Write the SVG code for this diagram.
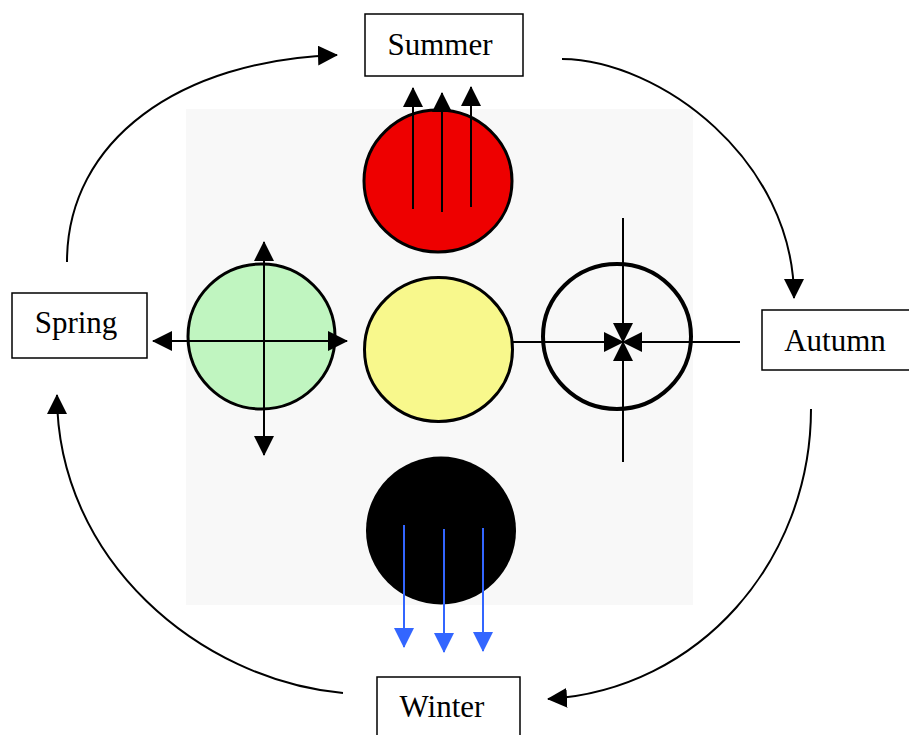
<svg xmlns="http://www.w3.org/2000/svg" width="909" height="735" viewBox="0 0 909 735">
<style>
.box{fill:#fff;stroke:#000;stroke-width:1.5}
.lbl{font-family:"Liberation Serif","Times New Roman",serif;font-size:31px;fill:#000;text-anchor:middle}
.ln{stroke:#000;stroke-width:2;fill:none}
.bl{stroke:#3366ff;stroke-width:2;fill:none}
.disc{stroke:#000;stroke-width:3}
</style>
<defs>
<marker id="ah" markerUnits="userSpaceOnUse" markerWidth="20" markerHeight="20" refX="19" refY="10" orient="auto-start-reverse">
<path d="M0,0 L20,10 L0,20 z" fill="#000"/>
</marker>
<marker id="ahb" markerUnits="userSpaceOnUse" markerWidth="20" markerHeight="20" refX="19" refY="10" orient="auto">
<path d="M0,0 L20,10 L0,20 z" fill="#3366ff"/>
</marker>
</defs>
<rect width="909" height="735" fill="#fff"/>
<rect id="panel" x="186" y="109" width="507" height="496" fill="#f8f8f8"/>

<g id="red"><ellipse class="disc" cx="438" cy="181" rx="74" ry="71" fill="#ee0000" stroke="#300"/></g>
<g id="yellow"><ellipse class="disc" cx="438.5" cy="349.5" rx="74" ry="72" fill="#f8f88c"/></g>
<g id="green"><ellipse class="disc" cx="261.5" cy="336.5" rx="73.5" ry="72.5" fill="#c0f5c0"/></g>
<g id="white"><ellipse cx="617" cy="336.5" rx="74" ry="72.5" fill="#f8f8f8" stroke="#000" stroke-width="4"/></g>
<g id="black"><ellipse cx="441" cy="530.5" rx="75" ry="74" fill="#000"/></g>

<g id="summer"><rect class="box" x="365" y="14" width="158" height="62"/><text class="lbl" x="440" y="55">Summer</text></g>
<g id="spring"><rect class="box" x="12" y="293" width="135" height="65"/><text class="lbl" x="76" y="333">Spring</text></g>
<g id="autumn"><rect class="box" x="762" y="310" width="160" height="60"/><text class="lbl" x="835" y="351">Autumn</text></g>
<g id="winter"><rect class="box" x="377" y="677" width="143" height="70"/><text class="lbl" x="442" y="717">Winter</text></g>

<g id="connectors">
<path class="ln" d="M67,262 C67,140 180,60 337,55" marker-end="url(#ah)"/>
<path class="ln" d="M562,59 C660,60 794,160 794,298" marker-end="url(#ah)"/>
<path class="ln" d="M811,409 C811,560 700,690 548,699" marker-end="url(#ah)"/>
<path class="ln" d="M343,693 C200,680 57,560 57,395" marker-end="url(#ah)"/>

<line class="ln" x1="413" y1="209" x2="413" y2="88" marker-end="url(#ah)"/>
<line class="ln" x1="442" y1="212" x2="442" y2="93" marker-end="url(#ah)"/>
<line class="ln" x1="471" y1="207" x2="471" y2="87" marker-end="url(#ah)"/>

<line class="ln" x1="264" y1="242" x2="264" y2="455" marker-start="url(#ah)" marker-end="url(#ah)"/>
<line class="ln" x1="153" y1="341" x2="347" y2="341" marker-start="url(#ah)" marker-end="url(#ah)"/>

<line class="ln" x1="623" y1="218" x2="623" y2="342" marker-end="url(#ah)"/>
<line class="ln" x1="623" y1="462" x2="623" y2="342" marker-end="url(#ah)"/>
<line class="ln" x1="512" y1="342" x2="623" y2="342" marker-end="url(#ah)"/>
<line class="ln" x1="740" y1="342" x2="623" y2="342" marker-end="url(#ah)"/>

<line class="bl" x1="404" y1="525" x2="404" y2="647" marker-end="url(#ahb)"/>
<line class="bl" x1="444" y1="529" x2="444" y2="652" marker-end="url(#ahb)"/>
<line class="bl" x1="483" y1="528" x2="483" y2="651" marker-end="url(#ahb)"/>
</g>
</svg>
